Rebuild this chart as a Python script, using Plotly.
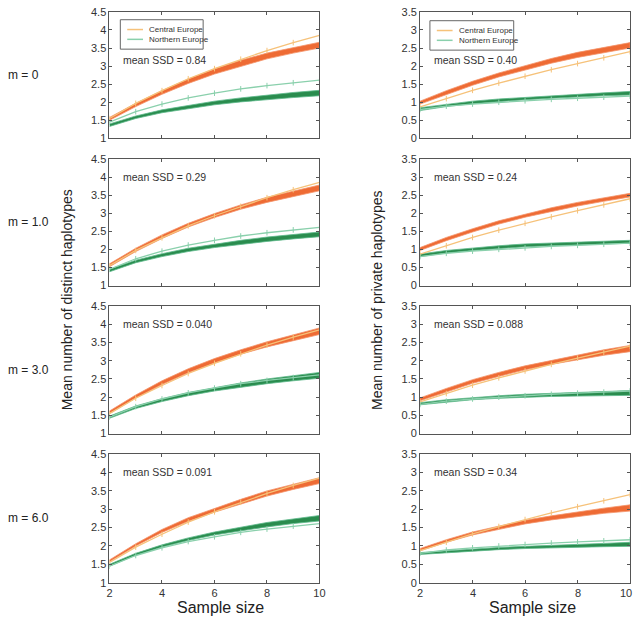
import plotly.graph_objects as go

sample_size = [2, 3, 4, 5, 6, 7, 8, 9, 10]
row_labels = ["m = 0", "m = 1.0", "m = 3.0", "m = 6.0"]
ssd_distinct = ["0.84", "0.29", "0.040", "0.091"]
ssd_private = ["0.40", "0.24", "0.088", "0.34"]
series_names = ["Central Europe", "Northern Europe"]
x_ticks = [2, 4, 6, 8, 10]

# observed curves (same in every row)
obs_dist_ce = [1.55, 1.97, 2.32, 2.65, 2.93, 3.19, 3.43, 3.65, 3.85]
obs_dist_ne = [1.45, 1.74, 1.95, 2.12, 2.25, 2.37, 2.46, 2.54, 2.61]
obs_priv_ce = [0.87, 1.10, 1.33, 1.53, 1.72, 1.90, 2.07, 2.23, 2.40]
obs_priv_ne = [0.80, 0.89, 0.95, 1.00, 1.04, 1.08, 1.11, 1.14, 1.17]

# simulated bands: distinct haplotypes
d_m0_ce_lo = [1.50, 1.88, 2.22, 2.52, 2.78, 3.00, 3.20, 3.36, 3.50]
d_m0_ce_hi = [1.58, 1.97, 2.32, 2.64, 2.92, 3.16, 3.36, 3.52, 3.66]
d_m0_ne_lo = [1.33, 1.55, 1.71, 1.83, 1.93, 2.01, 2.08, 2.13, 2.18]
d_m0_ne_hi = [1.40, 1.62, 1.79, 1.92, 2.03, 2.12, 2.20, 2.27, 2.33]
d_m1_ce_lo = [1.52, 1.94, 2.30, 2.62, 2.88, 3.11, 3.30, 3.47, 3.62]
d_m1_ce_hi = [1.60, 2.03, 2.40, 2.72, 2.99, 3.23, 3.44, 3.62, 3.78]
d_m1_ne_lo = [1.38, 1.63, 1.80, 1.94, 2.05, 2.14, 2.22, 2.29, 2.35]
d_m1_ne_hi = [1.45, 1.70, 1.88, 2.03, 2.15, 2.25, 2.34, 2.42, 2.48]
d_m3_ce_lo = [1.55, 1.98, 2.35, 2.67, 2.94, 3.18, 3.38, 3.56, 3.72]
d_m3_ce_hi = [1.62, 2.06, 2.45, 2.78, 3.06, 3.30, 3.52, 3.71, 3.90]
d_m3_ne_lo = [1.42, 1.69, 1.88, 2.04, 2.17, 2.28, 2.37, 2.45, 2.52]
d_m3_ne_hi = [1.48, 1.76, 1.96, 2.13, 2.27, 2.39, 2.50, 2.60, 2.68]
d_m6_ce_lo = [1.57, 2.00, 2.37, 2.67, 2.92, 3.14, 3.36, 3.54, 3.70]
d_m6_ce_hi = [1.62, 2.06, 2.45, 2.77, 3.03, 3.27, 3.50, 3.68, 3.86]
d_m6_ne_lo = [1.45, 1.75, 1.97, 2.15, 2.30, 2.42, 2.52, 2.61, 2.68]
d_m6_ne_hi = [1.50, 1.80, 2.03, 2.22, 2.38, 2.51, 2.64, 2.74, 2.83]

# simulated bands: private haplotypes
p_m0_ce_lo = [0.95, 1.22, 1.47, 1.70, 1.90, 2.08, 2.24, 2.38, 2.50]
p_m0_ce_hi = [1.03, 1.32, 1.58, 1.81, 2.02, 2.21, 2.38, 2.52, 2.65]
p_m0_ne_lo = [0.77, 0.88, 0.96, 1.02, 1.07, 1.11, 1.15, 1.18, 1.20]
p_m0_ne_hi = [0.85, 0.95, 1.03, 1.09, 1.14, 1.18, 1.22, 1.26, 1.30]
p_m1_ce_lo = [0.97, 1.24, 1.48, 1.70, 1.89, 2.05, 2.20, 2.33, 2.45]
p_m1_ce_hi = [1.05, 1.33, 1.57, 1.79, 1.98, 2.15, 2.30, 2.43, 2.55]
p_m1_ne_lo = [0.80, 0.90, 0.97, 1.03, 1.07, 1.10, 1.13, 1.15, 1.17]
p_m1_ne_hi = [0.87, 0.97, 1.04, 1.10, 1.15, 1.18, 1.21, 1.23, 1.25]
p_m3_ce_lo = [0.90, 1.15, 1.38, 1.57, 1.75, 1.90, 2.03, 2.15, 2.25]
p_m3_ce_hi = [0.98, 1.24, 1.48, 1.68, 1.86, 2.02, 2.16, 2.30, 2.42]
p_m3_ne_lo = [0.79, 0.87, 0.93, 0.97, 1.00, 1.02, 1.03, 1.04, 1.05]
p_m3_ne_hi = [0.85, 0.93, 0.99, 1.04, 1.08, 1.11, 1.13, 1.16, 1.18]
p_m6_ce_lo = [0.87, 1.10, 1.30, 1.46, 1.60, 1.71, 1.81, 1.89, 1.95]
p_m6_ce_hi = [0.93, 1.17, 1.38, 1.55, 1.70, 1.82, 1.93, 2.03, 2.12]
p_m6_ne_lo = [0.77, 0.82, 0.86, 0.90, 0.93, 0.95, 0.97, 0.98, 0.99]
p_m6_ne_hi = [0.82, 0.88, 0.92, 0.96, 0.99, 1.02, 1.05, 1.07, 1.10]

dist_bands = [
    (d_m0_ce_lo, d_m0_ce_hi, d_m0_ne_lo, d_m0_ne_hi),
    (d_m1_ce_lo, d_m1_ce_hi, d_m1_ne_lo, d_m1_ne_hi),
    (d_m3_ce_lo, d_m3_ce_hi, d_m3_ne_lo, d_m3_ne_hi),
    (d_m6_ce_lo, d_m6_ce_hi, d_m6_ne_lo, d_m6_ne_hi),
]
priv_bands = [
    (p_m0_ce_lo, p_m0_ce_hi, p_m0_ne_lo, p_m0_ne_hi),
    (p_m1_ce_lo, p_m1_ce_hi, p_m1_ne_lo, p_m1_ne_hi),
    (p_m3_ce_lo, p_m3_ce_hi, p_m3_ne_lo, p_m3_ne_hi),
    (p_m6_ce_lo, p_m6_ce_hi, p_m6_ne_lo, p_m6_ne_hi),
]

ORANGE = "#EE6B34"
ORANGE_EDGE = "#F4936A"
GREEN = "#2A8C4E"
GREEN_EDGE = "#5DB98A"
OBS_CE = "#F6C27A"
OBS_NE = "#8AD0AC"
FONT = "Liberation Sans"

W, H = 640, 623
col_px = [(108, 321), (423, 636)]
row_px = [(6, 135), (156, 285), (306, 436), (457, 588)]

fig = go.Figure()
layout = {}
annotations = []
shapes = []

def band(x, lo, hi, color, edge, xa, ya):
    fig.add_trace(go.Scatter(
        x=list(x) + list(x)[::-1], y=list(lo) + list(hi)[::-1],
        fill="toself", fillcolor=color, mode="lines",
        line=dict(color=edge, width=0.8), showlegend=False,
        hoverinfo="skip", xaxis=xa, yaxis=ya))

def obs(x, y, color, xa, ya):
    fig.add_trace(go.Scatter(
        x=x, y=y, mode="lines+markers",
        line=dict(color=color, width=1.3),
        marker=dict(symbol="line-ns", size=4, line=dict(color=color, width=1)),
        showlegend=False, xaxis=xa, yaxis=ya))

for r in range(4):
    for c in range(2):
        idx = r * 2 + c + 1
        xa = "x" if idx == 1 else f"x{idx}"
        ya = "y" if idx == 1 else f"y{idx}"
        bands = dist_bands[r] if c == 0 else priv_bands[r]
        band(sample_size, bands[0], bands[1], ORANGE, ORANGE_EDGE, xa, ya)
        band(sample_size, bands[2], bands[3], GREEN, GREEN_EDGE, xa, ya)
        if c == 0:
            obs(sample_size, obs_dist_ce, OBS_CE, xa, ya)
            obs(sample_size, obs_dist_ne, OBS_NE, xa, ya)
        else:
            obs(sample_size, obs_priv_ce, OBS_CE, xa, ya)
            obs(sample_size, obs_priv_ne, OBS_NE, xa, ya)

        x0, x1 = col_px[c]
        y0, y1 = row_px[r]
        xkey = "xaxis" if idx == 1 else f"xaxis{idx}"
        ykey = "yaxis" if idx == 1 else f"yaxis{idx}"
        show_x = (r == 3 and c == 0)
        layout[xkey] = dict(
            domain=[x0 / W, x1 / W], anchor=ya, range=[2, 10],
            tickvals=x_ticks, showticklabels=show_x,
            ticks="inside", ticklen=3, tickcolor="#555", mirror="ticks",
            showline=True, linecolor="#555", linewidth=1, showgrid=False,
            zeroline=False, tickfont=dict(family=FONT, size=11, color="#333"))
        if r == 3 and c == 1:
            for v in x_ticks:
                last = (v == x_ticks[-1])
                annotations.append(dict(
                    text=str(v), xref=xa, yref="paper", x=v,
                    y=1 - (y1 + 2) / H,
                    xanchor=("right" if last else "center"), yanchor="top",
                    xshift=(4 if last else 0),
                    showarrow=False,
                    font=dict(family=FONT, size=11, color="#333")))
        if c == 0:
            yr, yt = [1, 4.5], [1, 1.5, 2, 2.5, 3, 3.5, 4, 4.5]
        else:
            yr, yt = [0, 3.5], [0, 0.5, 1, 1.5, 2, 2.5, 3, 3.5]
        layout[ykey] = dict(
            domain=[1 - y1 / H, 1 - y0 / H], anchor=xa, range=yr,
            tickvals=yt, ticktext=[f"{v:g}" for v in yt],
            ticks="inside", ticklen=3, tickcolor="#555", mirror="ticks",
            showline=True, linecolor="#555", linewidth=1, showgrid=False,
            zeroline=False, tickfont=dict(family=FONT, size=11, color="#333"))

        ssd = ssd_distinct[r] if c == 0 else ssd_private[r]
        ty = y0 + (49 if r == 0 else 18)
        annotations.append(dict(
            text=f"mean SSD = {ssd}", xref="paper", yref="paper",
            x=(x0 + 12) / W, y=1 - ty / H, xanchor="left", yanchor="middle",
            showarrow=False, font=dict(family=FONT, size=10.5, color="#333")))

# hand-drawn legend boxes in the top panels
for bx0, by0, bx1, by1 in [(119, 14, 203, 44), (433, 15, 518, 45)]:
    shapes.append(dict(type="rect", xref="paper", yref="paper",
                       x0=bx0 / W, x1=bx1 / W, y0=1 - by1 / H, y1=1 - by0 / H,
                       line=dict(color="#666", width=1), fillcolor="white"))
    for k, (name, color) in enumerate(zip(series_names, [OBS_CE, OBS_NE])):
        ly = by0 + 10 + k * 10
        shapes.append(dict(type="line", xref="paper", yref="paper",
                           x0=(bx0 + 7) / W, x1=(bx0 + 23) / W,
                           y0=1 - ly / H, y1=1 - ly / H,
                           line=dict(color=color, width=1.5)))
        annotations.append(dict(text=name, xref="paper", yref="paper",
                                x=(bx0 + 27) / W, y=1 - ly / H,
                                xanchor="left", yanchor="middle",
                                showarrow=False,
                                font=dict(family=FONT, size=8, color="#333")))

for r in range(4):
    y0, y1 = row_px[r]
    annotations.append(dict(
        text=row_labels[r], xref="paper", yref="paper", x=3 / W,
        y=1 - ((y0 + y1) / 2) / H, xanchor="left", yanchor="middle",
        showarrow=False, font=dict(family=FONT, size=12, color="#222")))

annotations.append(dict(text="Mean number of distinct haplotypes", xref="paper",
                        yref="paper", x=65 / W, y=1 - 300 / H, textangle=-90,
                        showarrow=False, xanchor="center", yanchor="middle",
                        font=dict(family=FONT, size=14, color="#222")))
annotations.append(dict(text="Mean number of private haplotypes", xref="paper",
                        yref="paper", x=380 / W, y=1 - 300 / H, textangle=-90,
                        showarrow=False, xanchor="center", yanchor="middle",
                        font=dict(family=FONT, size=14, color="#222")))
for cx in [221, 537]:
    annotations.append(dict(text="Sample size", xref="paper", yref="paper",
                            x=cx / W, y=1 - 613 / H, showarrow=False,
                            xanchor="center", yanchor="middle",
                            font=dict(family=FONT, size=16, color="#222")))

fig.update_layout(width=W, height=H, margin=dict(l=0, r=0, t=0, b=0),
                  paper_bgcolor="white", plot_bgcolor="white",
                  showlegend=False, annotations=annotations, shapes=shapes,
                  **layout)

fig.write_html("out.html", config={"displayModeBar": False},
               post_script="document.body.style.margin='0';"
                           "document.body.style.overflow='hidden';")
